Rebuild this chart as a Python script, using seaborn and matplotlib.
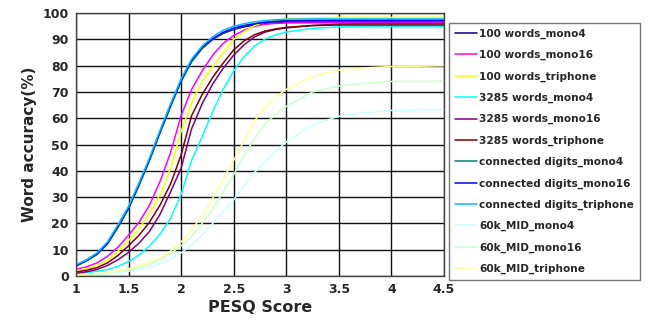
import matplotlib
matplotlib.use("Agg")
import matplotlib.pyplot as plt
import seaborn as sns
import pandas as pd

# PESQ score sample points (shared by all series)
pesq = [1.0, 1.1, 1.2, 1.3, 1.4, 1.5, 1.6, 1.7, 1.8, 1.9, 2.0,
        2.1, 2.2, 2.3, 2.4, 2.5, 2.6, 2.7, 2.8, 2.9, 3.0,
        3.25, 3.5, 3.75, 4.0, 4.25, 4.5]

w100_mono4 = [3.8, 5.8, 8.3, 12.3, 18.7, 25.7, 34.7, 44.2, 54.7, 64.7, 74.2,
              81.7, 86.7, 90.0, 92.3, 93.8, 94.8, 95.5, 96.0, 96.3, 96.5,
              96.6, 96.6, 96.6, 96.6, 96.6, 96.6]
w100_mono16 = [2.5, 3.5, 5.0, 7.5, 11.0, 15.5, 20.5, 27.0, 36.0, 47.0, 61.0,
               71.0, 78.0, 84.0, 88.5, 91.5, 93.5, 95.0, 95.8, 96.1, 96.3,
               96.3, 96.3, 96.3, 96.3, 96.3, 96.3]
w100_tri = [2.0, 2.8, 4.0, 6.0, 9.5, 13.5, 18.0, 24.0, 31.0, 41.0, 55.0,
            66.0, 74.0, 79.5, 85.0, 90.0, 93.0, 95.3, 96.7, 97.3, 97.8,
            98.2, 98.4, 98.4, 98.4, 98.4, 98.4]
w3285_mono4 = [1.0, 1.3, 1.8, 2.5, 3.7, 5.5, 8.0, 11.5, 16.0, 22.0, 31.0,
               44.0, 53.0, 62.5, 71.0, 78.0, 83.5, 87.5, 90.2, 91.8, 92.8,
               94.2, 94.8, 95.0, 95.0, 95.0, 95.0]
w3285_mono16 = [1.0, 1.6, 2.5, 4.0, 6.2, 9.0, 12.5, 17.0, 23.5, 32.0, 41.0,
                56.0, 65.5, 73.0, 79.0, 84.0, 88.0, 91.0, 92.8, 93.8, 94.4,
                95.3, 95.8, 96.0, 96.0, 96.0, 96.0]
w3285_tri = [1.5, 2.2, 3.2, 5.0, 7.8, 11.5, 15.5, 20.5, 27.0, 35.0, 46.0,
             61.0, 69.0, 75.5, 81.0, 86.0, 89.5, 91.8, 93.2, 94.0, 94.6,
             95.3, 95.5, 95.5, 95.5, 95.5, 95.5]
cd_mono4 = [3.8, 5.8, 8.2, 12.2, 18.5, 25.5, 34.5, 44.0, 54.5, 64.5, 74.0,
            81.5, 86.5, 90.0, 92.5, 94.0, 95.2, 96.0, 96.6, 97.0, 97.2,
            97.4, 97.5, 97.5, 97.5, 97.5, 97.5]
cd_mono16 = [4.0, 6.0, 8.5, 12.5, 19.0, 26.0, 35.0, 44.5, 55.0, 65.0, 74.5,
             82.0, 87.0, 90.3, 92.7, 94.3, 95.3, 96.0, 96.5, 96.8, 97.0,
             97.1, 97.2, 97.2, 97.2, 97.2, 97.2]
cd_tri = [4.3, 6.2, 8.8, 13.0, 19.5, 26.5, 35.5, 45.0, 55.5, 65.5, 75.0,
          82.5, 87.5, 91.0, 93.5, 95.0, 96.0, 96.7, 97.2, 97.5, 97.7,
          97.8, 97.8, 97.8, 97.8, 97.8, 97.8]
mid_mono4 = [0.3, 0.4, 0.6, 0.9, 1.3, 1.8, 2.5, 3.4, 4.7, 6.5, 8.8,
             11.8, 15.5, 20.0, 24.5, 29.0, 34.5, 39.5, 43.5, 47.5, 51.0,
             57.5, 60.8, 62.2, 63.0, 63.2, 63.3]
mid_mono16 = [0.4, 0.6, 0.9, 1.3, 1.8, 2.4, 3.3, 4.5, 6.3, 8.6, 11.5,
              15.0, 20.0, 25.5, 32.0, 38.5, 46.0, 52.5, 58.0, 61.5, 64.5,
              70.0, 72.3, 73.3, 74.0, 74.1, 74.2]
mid_tri = [0.5, 0.7, 1.0, 1.4, 2.0, 2.8, 3.8, 5.2, 7.0, 9.5, 13.0,
           17.5, 23.0, 29.5, 37.0, 44.0, 51.5, 59.0, 64.5, 68.0, 71.0,
           76.0, 78.3, 79.2, 79.7, 79.8, 80.0]

labels = ["100 words_mono4", "100 words_mono16", "100 words_triphone",
          "3285 words_mono4", "3285 words_mono16", "3285 words_triphone",
          "connected digits_mono4", "connected digits_mono16",
          "connected digits_triphone",
          "60k_MID_mono4", "60k_MID_mono16", "60k_MID_triphone"]
series = [w100_mono4, w100_mono16, w100_tri,
          w3285_mono4, w3285_mono16, w3285_tri,
          cd_mono4, cd_mono16, cd_tri,
          mid_mono4, mid_mono16, mid_tri]
colors = ["#000080", "#FF00FF", "#FFFF00",
          "#00FFFF", "#800080", "#800000",
          "#008080", "#0000FF", "#00BFFF",
          "#CCFFFF", "#CCFFCC", "#FFFF99"]

rows = []
for lab, vals in zip(labels, series):
    for x, y in zip(pesq, vals):
        rows.append({"PESQ": x, "acc": y, "set": lab})
df = pd.DataFrame(rows)

sns.set_style("white")
plt.rcParams["font.family"] = ["DejaVu Sans"]
plt.rcParams["font.weight"] = "bold"

fig = plt.figure(figsize=(6.49, 3.29), dpi=100)
ax = fig.add_axes([0.117, 0.161, 0.567, 0.799])

sns.lineplot(data=df, x="PESQ", y="acc", hue="set", hue_order=labels,
             palette=dict(zip(labels, colors)), linewidth=1.1,
             legend=False, ax=ax)

ax.set_xlim(1, 4.5)
ax.set_ylim(0, 100)
ax.set_xticks([1, 1.5, 2, 2.5, 3, 3.5, 4, 4.5])
ax.set_xticklabels(["1", "1.5", "2", "2.5", "3", "3.5", "4", "4.5"])
ax.set_yticks(range(0, 101, 10))
ax.grid(True, color="#111111", linewidth=1.0)
ax.set_axisbelow(True)
ax.tick_params(length=0, labelsize=9, pad=5)
for lab in ax.get_xticklabels() + ax.get_yticklabels():
    lab.set_fontweight("bold")
for s in ax.spines.values():
    s.set_color("#444444")
    s.set_linewidth(1.0)

ax.set_xlabel("PESQ Score", fontsize=11.5, fontweight="bold", labelpad=3)
ax.set_ylabel("Word accuracy(%)", fontsize=11, fontweight="bold", labelpad=4)

handles = ax.get_lines()[:len(labels)]
leg = fig.legend(handles, labels, loc="upper left",
                 bbox_to_anchor=(0.692, 0.93), frameon=True, fancybox=False,
                 fontsize=7.6, handlelength=2.1, handletextpad=0.2,
                 labelspacing=1.05, borderpad=0.55, borderaxespad=0)
leg.get_frame().set_edgecolor("#555555")
leg.get_frame().set_linewidth(1.0)
for t in leg.get_texts():
    t.set_fontweight("bold")

fig.savefig("out.png", dpi=100)
